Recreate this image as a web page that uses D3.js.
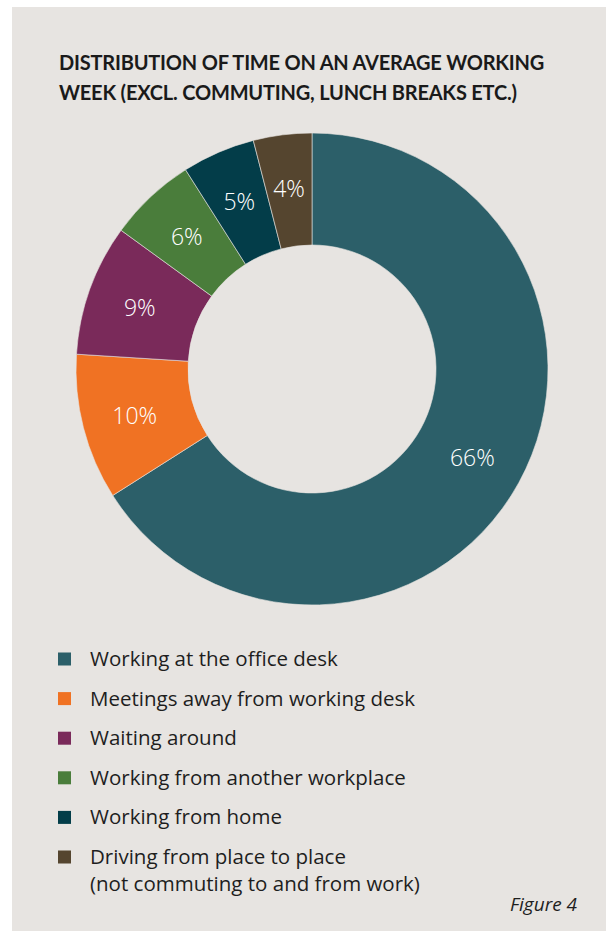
<!DOCTYPE html>
<html>
<head>
<meta charset="utf-8">
<script src="https://cdn.jsdelivr.net/npm/d3@7"></script>
<style>
  html, body { margin: 0; padding: 0; background: #ffffff; }
  svg { display: block; }
</style>
</head>
<body>
<svg id="chart" width="606" height="931"></svg>
<script>
// Share of an average working week by activity
const categories = [
  "Working at the office desk",
  "Meetings away from working desk",
  "Waiting around",
  "Working from another workplace",
  "Working from home",
  "Driving from place to place"
];
const legendSecondLines = ["", "", "", "", "", "(not commuting to and from work)"];
const values = [66, 10, 9, 6, 5, 4];
const colors = ["#2c5f69", "#f07223", "#7a2a5a", "#4a7d3b", "#033d49", "#55452f"];
const titleLines = [
  "DISTRIBUTION OF TIME ON AN AVERAGE WORKING",
  "WEEK (EXCL. COMMUTING, LUNCH BREAKS ETC.)"
];
const figureLabel = "Figure 4";

const W = 606, H = 931;
const bg = "#e7e4e1";
const titleFont = "Lato, 'Open Sans', sans-serif";
const bodyFont = "'Open Sans', 'Noto Sans', sans-serif";

const svg = d3.select("#chart");

// panel
svg.append("rect")
  .attr("x", 12).attr("y", 7)
  .attr("width", W - 12).attr("height", H - 7)
  .attr("fill", bg);

// title
svg.append("g").selectAll("text")
  .data(titleLines)
  .join("text")
  .attr("x", 59)
  .attr("y", (d, i) => 70 + i * 30)
  .attr("font-family", titleFont)
  .attr("font-weight", 700)
  .attr("font-size", 20)
  .attr("letter-spacing", -0.2)
  .attr("fill", "#1a1a1a")
  .text(d => d);

// donut
const cx = 312, cy = 369, rOuter = 236, rInner = 124;
const data = categories.map((c, i) => ({ name: c, value: values[i], color: colors[i] }));

const pie = d3.pie().value(d => d.value).sort(null);
const arc = d3.arc().innerRadius(rInner).outerRadius(rOuter);
const labelArc = d3.arc().innerRadius(183).outerRadius(183);
const arcs = pie(data);

const g = svg.append("g").attr("transform", `translate(${cx},${cy})`);
g.selectAll("path")
  .data(arcs)
  .join("path")
  .attr("d", arc)
  .attr("fill", d => d.data.color)
  .attr("stroke", bg)
  .attr("stroke-width", 0.6);

g.selectAll("text")
  .data(arcs)
  .join("text")
  .attr("transform", d => `translate(${labelArc.centroid(d)})`)
  .attr("text-anchor", "middle")
  .attr("dy", "0.4em")
  .attr("font-family", bodyFont)
  .attr("font-weight", 300)
  .attr("font-size", 23)
  .attr("fill", "#ffffff")
  .text(d => d.data.value + "%");

// legend
const legendY = d3.scalePoint().domain(categories).range([659, 857]);
const lg = svg.append("g");
const items = lg.selectAll("g")
  .data(categories)
  .join("g")
  .attr("transform", d => `translate(0,${legendY(d)})`);

items.append("rect")
  .attr("x", 58).attr("y", -6.5)
  .attr("width", 13).attr("height", 13)
  .attr("fill", (d, i) => colors[i]);

items.append("text")
  .attr("x", 90)
  .attr("y", 7)
  .attr("font-family", bodyFont)
  .attr("font-size", 20.5)
  .attr("fill", "#1e1e1e")
  .text(d => d);

items.filter((d, i) => legendSecondLines[i])
  .append("text")
  .attr("x", 90)
  .attr("y", 34)
  .attr("font-family", bodyFont)
  .attr("font-size", 20.5)
  .attr("fill", "#1e1e1e")
  .text((d) => legendSecondLines[categories.indexOf(d)]);

// figure number
svg.append("text")
  .attr("x", 577)
  .attr("y", 911)
  .attr("text-anchor", "end")
  .attr("font-family", bodyFont)
  .attr("font-style", "italic")
  .attr("font-size", 19)
  .attr("fill", "#1e1e1e")
  .text(figureLabel);
</script>
</body>
</html>
